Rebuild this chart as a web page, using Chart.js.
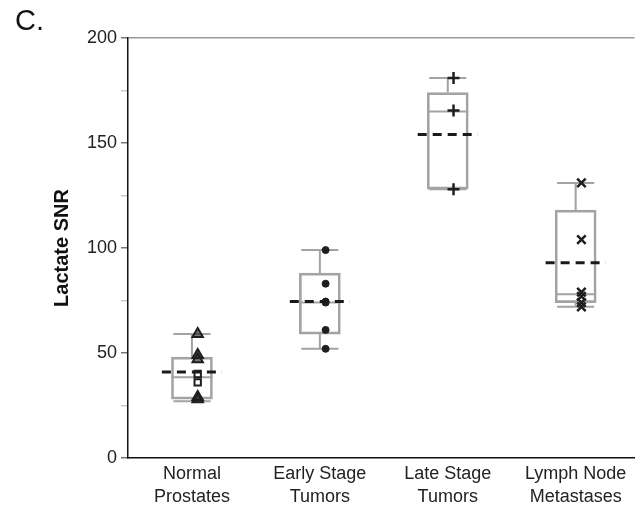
<!DOCTYPE html>
<html>
<head>
<meta charset="utf-8">
<script src="https://cdn.jsdelivr.net/npm/chart.js@4.4.1/dist/chart.umd.min.js"></script>
<style>
  html, body { margin: 0; padding: 0; background: #fff; overflow: hidden; }
  #wrap { position: relative; width: 635px; height: 505px; overflow: hidden; }
  #panel { position: absolute; left: 15px; top: 4px; font: 29px "Liberation Sans", Arial, sans-serif; color: #111; }
</style>
</head>
<body>
<div id="wrap">
  <canvas id="snrChart" width="643" height="505"></canvas>
  <div id="panel">C.</div>
</div>
<script>
// groups along the x axis
const categories = [['Normal', 'Prostates'], ['Early Stage', 'Tumors'], ['Late Stage', 'Tumors'], ['Lymph Node', 'Metastases']];

// box plot summary per group (Lactate SNR)
const whiskerMin = [27, 52, 128, 72];
const q1         = [28, 59, 128, 74];
const median     = [38.5, 74, 165, 78];
const q3         = [48, 88, 174, 118];
const whiskerMax = [59, 99, 181, 131];
const means      = [41, 74.5, 154, 93];

// individual subjects
const normalTri    = [59, 49, 47, 29, 28];
const normalSquare = [40, 36];
const earlyPts     = [99, 83, 74.5, 74, 61, 52];
const latePts      = [181, 165.5, 128];
const lymphPts     = [131, 104, 79, 77, 74, 72];

const yTicks = [0, 50, 100, 150, 200];

const pointShift = 0.045;
const asPoints = (vals, group) => vals.map(v => ({ x: group + 1 + pointShift, y: v }));

const boxGray = '#a3a3a3';

// whiskers, caps, medians and dashed means, drawn through the chart scales
const boxExtras = {
    id: 'boxExtras',
    beforeDatasetsDraw(chart) {
        const { ctx, scales: { x, y } } = chart;
        ctx.save();
        ctx.strokeStyle = boxGray;
        ctx.lineWidth = 2;
        categories.forEach((c, i) => {
            const cx = x.getPixelForValue(i + 1);
            const capL = x.getPixelForValue(i + 1 - 0.145);
            const capR = x.getPixelForValue(i + 1 + 0.145);
            const boxL = x.getPixelForValue(i + 1 - 0.16);
            const boxR = x.getPixelForValue(i + 1 + 0.16);
            ctx.beginPath();
            ctx.moveTo(cx, y.getPixelForValue(q3[i]));
            ctx.lineTo(cx, y.getPixelForValue(whiskerMax[i]));
            ctx.moveTo(cx, y.getPixelForValue(q1[i]));
            ctx.lineTo(cx, y.getPixelForValue(whiskerMin[i]));
            ctx.moveTo(capL, y.getPixelForValue(whiskerMax[i]));
            ctx.lineTo(capR, y.getPixelForValue(whiskerMax[i]));
            ctx.moveTo(capL, y.getPixelForValue(whiskerMin[i]));
            ctx.lineTo(capR, y.getPixelForValue(whiskerMin[i]));
            ctx.moveTo(boxL, y.getPixelForValue(median[i]));
            ctx.lineTo(boxR, y.getPixelForValue(median[i]));
            ctx.stroke();
        });
        ctx.restore();
    },
    afterDatasetsDraw(chart) {
        const { ctx, scales: { x, y } } = chart;
        ctx.save();
        ctx.strokeStyle = '#1a1a1a';
        ctx.lineWidth = 3;
        ctx.setLineDash([9, 6]);
        categories.forEach((c, i) => {
            const py = y.getPixelForValue(means[i]);
            ctx.beginPath();
            ctx.moveTo(x.getPixelForValue(i + 1 - 0.235), py);
            ctx.lineTo(x.getPixelForValue(i + 1 + 0.235), py);
            ctx.stroke();
        });
        ctx.restore();
    }
};

const ptStyle = { borderColor: '#1e1e1e', backgroundColor: '#1e1e1e' };

new Chart(document.getElementById('snrChart'), {
    type: 'scatter',
    data: {
        datasets: [
            { data: asPoints(normalTri, 0), pointStyle: 'triangle', pointRadius: 6, borderWidth: 2, ...ptStyle, backgroundColor: 'rgba(30,30,30,0.6)' },
            { data: asPoints(normalSquare, 0), pointStyle: 'rect', pointRadius: 4.5, borderWidth: 2, borderColor: '#1e1e1e', backgroundColor: 'rgba(255,255,255,0.6)' },
            { data: asPoints(earlyPts, 1), pointStyle: 'circle', pointRadius: 3.5, borderWidth: 1, ...ptStyle },
            { data: asPoints(latePts, 2), pointStyle: 'cross', pointRadius: 6, borderWidth: 2.5, ...ptStyle },
            { data: asPoints(lymphPts, 3), pointStyle: 'crossRot', pointRadius: 6, borderWidth: 2.5, ...ptStyle },
            {
                type: 'bar',
                data: categories.map((c, i) => ({ x: i + 1, y: [q1[i], q3[i]] })),
                backgroundColor: 'rgba(255,255,255,0)',
                borderColor: boxGray,
                borderWidth: 2,
                borderSkipped: false,
                barThickness: 41
            }
        ]
    },
    options: {
        responsive: false,
        animation: false,
        layout: { padding: { top: 38, right: 0, bottom: 0, left: 0 } },
        plugins: { legend: { display: false }, tooltip: { enabled: false } },
        scales: {
            x: {
                type: 'linear',
                offset: false,
                min: 0.5,
                max: 4.46,
                afterBuildTicks: s => { s.ticks = categories.map((c, i) => ({ value: i + 1 })); },
                afterFit: s => { s.height = 47; },
                grid: { color: 'rgba(0,0,0,0)', drawTicks: false },
                border: { display: true, color: '#111', width: 1.5 },
                ticks: {
                    padding: 4,
                    color: '#222',
                    font: { family: '"Liberation Sans", Arial, sans-serif', size: 18, lineHeight: 1.3 },
                    callback: v => categories[Math.round(v) - 1]
                }
            },
            y: {
                min: 0,
                max: 200,
                afterBuildTicks: s => {
                    const t = [];
                    for (let v = 0; v <= 200; v += 25) t.push({ value: v });
                    s.ticks = t;
                },
                afterFit: s => { s.width = 128; },
                grid: {
                    color: c => c.tick && c.tick.value === 200 ? '#9a9a9a' : 'rgba(0,0,0,0)',
                    tickColor: c => c.tick && yTicks.includes(c.tick.value) ? '#777' : '#c8c8c8',
                    tickLength: 7,
                    lineWidth: 1.5
                },
                border: { display: true, color: '#111', width: 1.5 },
                ticks: {
                    padding: 4,
                    color: '#222',
                    font: { family: '"Liberation Sans", Arial, sans-serif', size: 18 },
                    callback: v => yTicks.includes(v) ? v : ''
                },
                title: {
                    display: true,
                    text: 'Lactate SNR',
                    color: '#111',
                    padding: { top: 50, bottom: 0 },
                    font: { family: '"Liberation Sans", Arial, sans-serif', size: 20, weight: 'bold' }
                }
            }
        }
    },
    plugins: [boxExtras]
});
</script>
</body>
</html>
